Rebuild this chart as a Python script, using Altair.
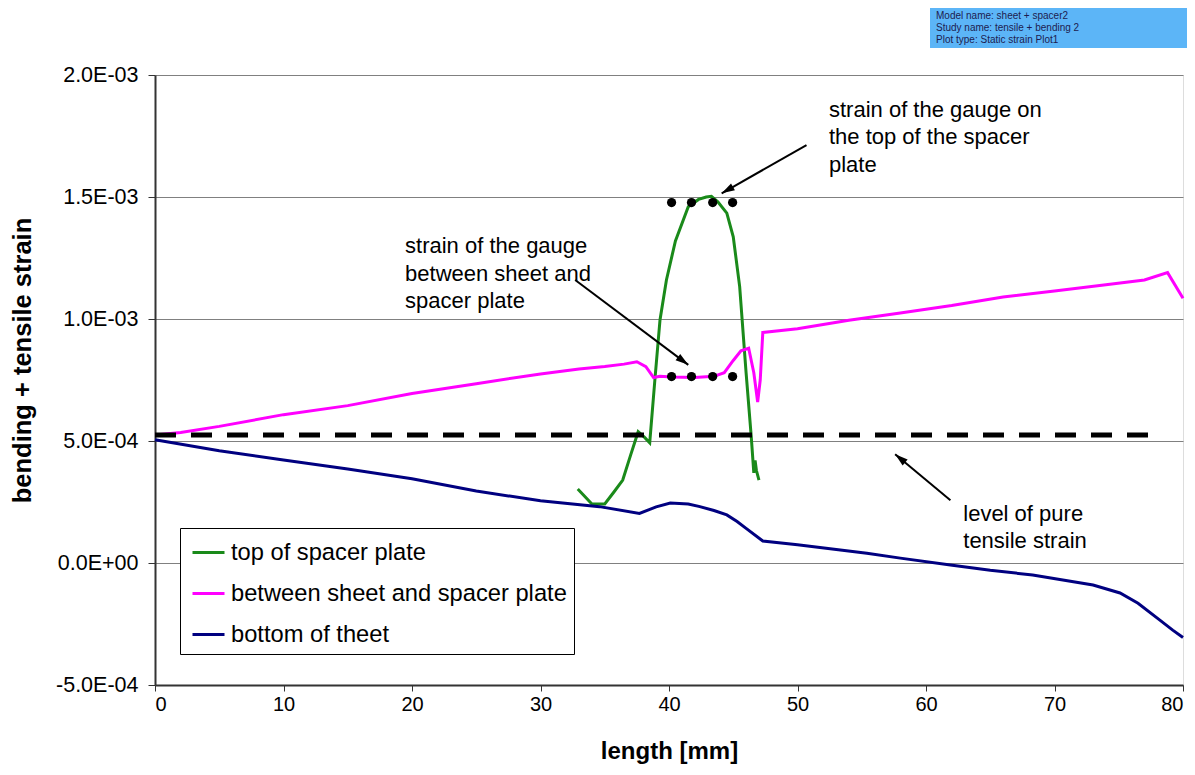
import math
import json
import altair as alt
import pandas as pd

# ---------------- data ----------------
series_names = ["top of spacer plate", "between sheet and spacer plate", "bottom of theet"]
series_colors = ["#1a8a1a", "#ff00ff", "#000080"]

top_x = [32.9, 34.0, 35.0, 35.7, 36.4, 37.0, 37.6, 38.1, 38.5, 38.9, 39.3, 39.8, 40.5, 41.5,
         42.3, 42.9, 43.3, 43.8, 44.5, 45.0, 45.5, 46.0, 46.4, 46.6, 46.7, 46.8, 47.0]
top_y = [3.03e-4, 2.42e-4, 2.42e-4, 2.9e-4, 3.4e-4, 4.4e-4, 5.38e-4, 5.15e-4, 4.93e-4, 7.5e-4,
         9.96e-4, 1.16e-3, 1.32e-3, 1.46e-3, 1.49e-3, 1.50e-3, 1.503e-3, 1.48e-3, 1.434e-3,
         1.337e-3, 1.133e-3, 7.79e-4, 5.18e-4, 3.69e-4, 4.2e-4, 3.8e-4, 3.4e-4]

mid_x = [0, 2, 5, 10, 15, 20, 25, 30, 33, 35, 36.5, 37.5, 38.2, 38.8, 39.3, 40.2, 42.0, 43.5,
         44.3, 45.0, 45.6, 46.2, 46.6, 46.9, 47.1, 47.3, 50, 54, 58, 62, 66, 70, 74, 77, 78.8, 80]
mid_y = [5.25e-4, 5.35e-4, 5.6e-4, 6.08e-4, 6.45e-4, 6.95e-4, 7.35e-4, 7.75e-4, 7.95e-4, 8.05e-4,
         8.15e-4, 8.25e-4, 8.05e-4, 7.6e-4, 7.65e-4, 7.62e-4, 7.6e-4, 7.65e-4, 7.8e-4, 8.3e-4,
         8.7e-4, 8.8e-4, 7.8e-4, 6.6e-4, 7.5e-4, 9.45e-4, 9.6e-4, 9.95e-4, 1.025e-3, 1.055e-3,
         1.09e-3, 1.115e-3, 1.14e-3, 1.16e-3, 1.19e-3, 1.085e-3]

bot_x = [0, 5, 10, 15, 20, 25, 30, 34.6, 37.7, 39.0, 40.1, 41.5, 42.4, 43.5, 44.5, 45.3, 46.0,
         47.3, 50, 55.4, 58, 61.9, 65, 68.3, 73, 75.1, 76.5, 78.2, 79.2, 80]
bot_y = [5.05e-4, 4.6e-4, 4.22e-4, 3.85e-4, 3.45e-4, 2.95e-4, 2.55e-4, 2.31e-4, 2.03e-4, 2.3e-4,
         2.46e-4, 2.42e-4, 2.31e-4, 2.15e-4, 1.97e-4, 1.7e-4, 1.42e-4, 9.0e-5, 7.5e-5, 4.0e-5,
         2.0e-5, -8e-6, -3e-5, -4.9e-5, -9e-5, -1.23e-4, -1.65e-4, -2.34e-4, -2.75e-4, -3.05e-4]

pure_tensile_level = 5.25e-4
pure_tensile_x = [0, 77.3]

gauge_x = [40.2, 41.75, 43.4, 44.95]
gauge_top_y = 1.477e-3
gauge_mid_y = 7.64e-4

ytick_values = [-5e-4, 0, 5e-4, 1e-3, 1.5e-3, 2e-3]
ytick_labels = ["-5.0E-04", "0.0E+00", "5.0E-04", "1.0E-03", "1.5E-03", "2.0E-03"]
xtick_values = [0, 10, 20, 30, 40, 50, 60, 70, 80]

note_texts = [
    ["strain of the gauge on", "the top of the spacer", "plate"],
    ["strain of the gauge", "between sheet and", "spacer plate"],
    ["level of pure", "tensile strain"],
]
note_x = [52.45, 19.46, 62.9]
note_y = [1.828e-3, 1.269e-3, 1.73e-4]

arrow_x0 = [50.7, 32.7, 61.9]
arrow_y0 = [1.713e-3, 1.160e-3, 2.57e-4]
arrow_x1 = [44.1, 41.5, 57.6]
arrow_y1 = [1.515e-3, 0.812e-3, 4.46e-4]

info_lines = ["Model name: sheet + spacer2", "Study name: tensile + bending 2", "Plot type: Static strain Plot1"]

# ---------------- layout ----------------
W, H = 1028, 610
XMIN, XMAX = 0, 80
YMIN, YMAX = -5e-4, 2e-3
FONT = "Liberation Sans"

lines_df = pd.concat([
    pd.DataFrame({"x": top_x, "y": top_y, "series": series_names[0]}),
    pd.DataFrame({"x": mid_x, "y": mid_y, "series": series_names[1]}),
    pd.DataFrame({"x": bot_x, "y": bot_y, "series": series_names[2]}),
], ignore_index=True)

x_scale = alt.Scale(domain=[XMIN, XMAX], nice=False, zero=False)
y_scale = alt.Scale(domain=[YMIN, YMAX], nice=False, zero=False)

label_expr = json.dumps(ytick_labels) + "[round(datum.value*10000/5)+1]"

x_axis = alt.Axis(values=xtick_values, title="length [mm]", grid=False, labelFont=FONT,
                  labelFontSize=20, labelColor="black", tickColor="#333", tickSize=6,
                  domainColor="#333", domainWidth=2, labelPadding=3,
                  titleFont=FONT, titleFontSize=24, titleFontWeight="bold", titleColor="black",
                  titleY=73, titleBaseline="alphabetic", titleX=W / 2)
y_axis = alt.Axis(values=ytick_values, labelExpr=label_expr, title="bending + tensile strain",
                  grid=True, gridColor="#808080", gridWidth=1.2, labelFont=FONT, labelFontSize=21.5,
                  labelColor="black", tickColor="#333", tickSize=7, domainColor="#333",
                  domainWidth=2, labelPadding=10,
                  titleFont=FONT, titleFontSize=25.5, titleFontWeight="bold", titleColor="black",
                  titleAngle=270, titleX=-133, titleY=285, titleBaseline="middle", titleAlign="center")

lines = alt.Chart(lines_df).mark_line(strokeWidth=3).encode(
    x=alt.X("x:Q", scale=x_scale, axis=x_axis),
    y=alt.Y("y:Q", scale=y_scale, axis=y_axis),
    color=alt.Color("series:N", scale=alt.Scale(domain=series_names, range=series_colors),
                    legend=alt.Legend(orient="none", legendX=25, legendY=453, title=None,
                                      symbolType="stroke", symbolStrokeWidth=3, symbolSize=1024,
                                      symbolOffset=4,
                                      labelFont=FONT, labelFontSize=23.7, labelColor="black",
                                      labelLimit=0, strokeColor="black", fillColor="white",
                                      padding=7, rowPadding=11, labelOffset=5)),
    detail="series:N",
)

dash_df = pd.DataFrame({"x": [pure_tensile_x[0]], "x2": [pure_tensile_x[1]], "y": [pure_tensile_level]})
dash = alt.Chart(dash_df).mark_rule(color="black", strokeWidth=5, strokeDash=[21, 15]).encode(
    x=alt.X("x:Q", scale=x_scale), x2="x2:Q", y=alt.Y("y:Q", scale=y_scale))

dots_df = pd.DataFrame({"x": gauge_x * 2, "y": [gauge_top_y] * 4 + [gauge_mid_y] * 4})
dots = alt.Chart(dots_df).mark_circle(color="black", size=85, opacity=1).encode(
    x=alt.X("x:Q", scale=x_scale), y=alt.Y("y:Q", scale=y_scale))

sx = W / (XMAX - XMIN)
sy = H / (YMAX - YMIN)
angles = []
for a, b, c, d in zip(arrow_x0, arrow_y0, arrow_x1, arrow_y1):
    dx = (c - a) * sx
    dy = -(d - b) * sy
    angles.append(math.degrees(math.atan2(dx, -dy)) % 360)
arrows_df = pd.DataFrame({"x0": arrow_x0, "y0": arrow_y0, "x1": arrow_x1, "y1": arrow_y1, "angle": angles})
arrow_lines = alt.Chart(arrows_df).mark_rule(color="black", strokeWidth=2).encode(
    x=alt.X("x0:Q", scale=x_scale), y=alt.Y("y0:Q", scale=y_scale), x2="x1:Q", y2="y1:Q")
arrow_heads = alt.Chart(arrows_df).mark_point(
    shape="M0,0 L0.6,2 L-0.6,2 Z", filled=True, color="black", opacity=1, size=169, strokeWidth=0
).encode(x=alt.X("x1:Q", scale=x_scale), y=alt.Y("y1:Q", scale=y_scale),
         angle=alt.Angle("angle:Q", scale=None))

notes_df = pd.DataFrame({"x": note_x, "y": note_y, "t": note_texts})
notes = alt.Chart(notes_df).mark_text(align="left", baseline="alphabetic", font=FONT, fontSize=22,
                                      lineHeight=27.5, color="black").encode(
    x=alt.X("x:Q", scale=x_scale), y=alt.Y("y:Q", scale=y_scale), text="t")

info_box = alt.Chart(pd.DataFrame({"k": [0]})).mark_rect(color="#5cb5f7", opacity=1).encode(
    x=alt.value(775), x2=alt.value(1032), y=alt.value(-67), y2=alt.value(-27))
info_text = alt.Chart(pd.DataFrame({"t": [info_lines]})).mark_text(
    align="left", baseline="top", font=FONT, fontSize=10, lineHeight=12, color="#1c1c50").encode(
    x=alt.value(781), y=alt.value(-64), text="t")

chart = alt.layer(lines, dash, dots, arrow_lines, arrow_heads, notes, info_box, info_text).properties(
    width=W, height=H,
    autosize=alt.AutoSizeParams(type="none"),
    padding={"left": 147, "top": 67, "right": 4, "bottom": 82},
).configure_view(stroke="#a8a8a8", strokeWidth=2).configure(background="white")

chart.save("out.html", embed_options={"renderer": "svg", "actions": False})
